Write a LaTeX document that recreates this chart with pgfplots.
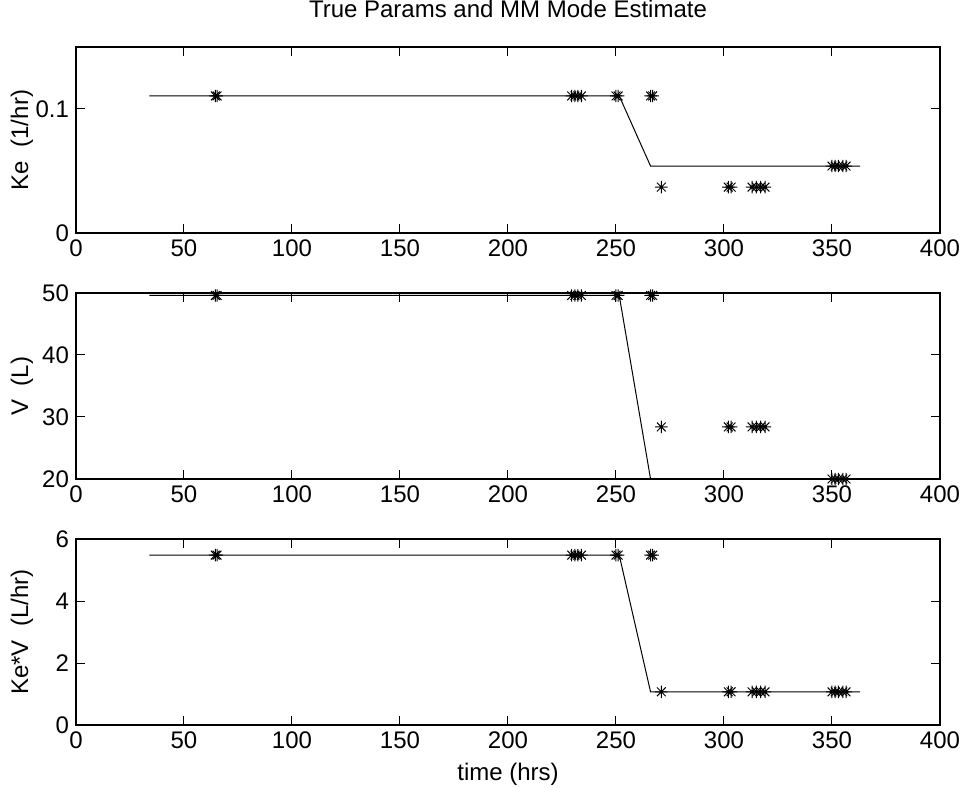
\documentclass[border=0pt]{standalone}
\usepackage{fontspec}
\setmainfont{Liberation Sans}
\usepackage{pgfplots}
\pgfplotsset{compat=1.18}
\pgfdeclareplotmark{mstar}{%
  \pgfpathmoveto{\pgfqpoint{-\pgfplotmarksize}{0pt}}\pgfpathlineto{\pgfqpoint{\pgfplotmarksize}{0pt}}%
  \pgfpathmoveto{\pgfqpoint{0pt}{-\pgfplotmarksize}}\pgfpathlineto{\pgfqpoint{0pt}{\pgfplotmarksize}}%
  \pgfpathmoveto{\pgfqpoint{-0.707\pgfplotmarksize}{-0.707\pgfplotmarksize}}\pgfpathlineto{\pgfqpoint{0.707\pgfplotmarksize}{0.707\pgfplotmarksize}}%
  \pgfpathmoveto{\pgfqpoint{-0.707\pgfplotmarksize}{0.707\pgfplotmarksize}}\pgfpathlineto{\pgfqpoint{0.707\pgfplotmarksize}{-0.707\pgfplotmarksize}}%
  \pgfusepathqstroke}
\pgfplotsset{
  myax/.style={
    scale only axis, width=432pt, height=93pt,
    xmin=0, xmax=400, xtick={0,50,...,400},
    tick align=inside, major tick length=4.3pt,
    every tick/.style={black, line width=0.5pt},
    axis line style={black, line width=0.6pt},
    font=\fontsize{12}{14}\selectfont,
    /pgf/number format/assume math mode=true,
    scaled ticks=false,
    every axis y label/.style={at={(axis description cs:-0.0625,0.5)}, rotate=90, anchor=center},
    clip=false,
  },
  stars/.style={only marks, mark=mstar, mark size=3.1pt, black, line width=0.5pt},
  trueline/.style={black, line width=0.5pt, no marks},
}
\begin{document}
\begin{tikzpicture}
\useasboundingbox (-38pt,-31.5pt) rectangle (444.5pt,362.5pt);
% Top panel
\begin{axis}[myax, at={(0pt,246pt)}, anchor=south west,
  ymin=0, ymax=0.15, ytick={0,0.1}, yticklabels={0,0.1},
  ylabel={Ke\ \ (1/hr)}]
\addplot[trueline] coordinates {(34,0.1105) (251.5,0.1105) (266,0.054) (363,0.054)};
\addplot[stars] coordinates {
 (64.5,0.1105) (65.3,0.1105) (229.5,0.1105) (231,0.1105) (232.3,0.1105) (234,0.1105)
 (250,0.1105) (251,0.1105) (266,0.1105) (267,0.1105)
 (271,0.037) (302,0.037) (303.3,0.037) (313,0.037) (315,0.037) (317,0.037) (319,0.037)
 (350,0.054) (351.5,0.054) (353,0.054) (355,0.054) (356.5,0.054)};
\node[anchor=base, font=\fontsize{12}{14}\selectfont] at (rel axis cs:0.5,1) [yshift=14.5pt] {True Params and MM Mode Estimate};
\end{axis}
% Middle panel
\begin{axis}[myax, at={(0pt,123pt)}, anchor=south west,
  ymin=20, ymax=50, ytick={20,30,40,50},
  ylabel={V\ \ (L)}]
\addplot[trueline] coordinates {(34,49.6) (251.5,49.6) (266,20) (363,20)};
\addplot[stars] coordinates {
 (64.5,49.6) (65.3,49.6) (229.5,49.6) (231,49.6) (232.3,49.6) (234,49.6)
 (250,49.6) (251,49.6) (266,49.6) (267,49.6)
 (271,28.4) (302,28.4) (303.3,28.4) (313,28.4) (315,28.4) (317,28.4) (319,28.4)
 (350,20) (351.5,20) (353,20) (355,20) (356.5,20)};
\end{axis}
% Bottom panel
\begin{axis}[myax, at={(0pt,0pt)}, anchor=south west,
  ymin=0, ymax=6, ytick={0,2,4,6},
  ylabel={Ke*V\ \ (L/hr)}, xlabel={time (hrs)}]
\addplot[trueline] coordinates {(34,5.48) (251.5,5.48) (266,1.07) (363,1.07)};
\addplot[stars] coordinates {
 (64.5,5.48) (65.3,5.48) (229.5,5.48) (231,5.48) (232.3,5.48) (234,5.48)
 (250,5.48) (251,5.48) (266,5.48) (267,5.48)
 (271,1.07) (302,1.07) (303.3,1.07) (313,1.07) (315,1.07) (317,1.07) (319,1.07)
 (350,1.07) (351.5,1.07) (353,1.07) (355,1.07) (356.5,1.07)};
\end{axis}
\end{tikzpicture}
\end{document}
